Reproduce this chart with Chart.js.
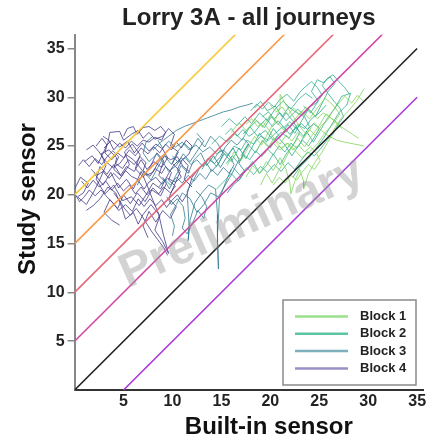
<!DOCTYPE html>
<html>
<head>
<meta charset="utf-8">
<script src="https://cdn.jsdelivr.net/npm/chart.js@4.4.1/dist/chart.umd.min.js"></script>
<style>
  html, body { margin: 0; padding: 0; background: #fff; }
  #wrap { width: 429px; height: 444px; }
</style>
</head>
<body>
<div id="wrap"><canvas id="chart"></canvas></div>
<script>
// reference lines y = x + offset
const refOffsets = [20, 15, 10, 5, 0, -5];
const refColors = ['#F9C93A', '#F79A4B', '#E8687A', '#D046A8', '#222222', '#A83BDB'];

const blockNames = ['Block 1', 'Block 2', 'Block 3', 'Block 4'];
const blockColors = ['rgba(122,209,81,0.75)', 'rgba(34,168,132,0.75)', 'rgba(42,120,142,0.78)', 'rgba(68,58,135,0.8)'];
const legendColors = ['#9BE08C', '#5CC4A2', '#7DAFBD', '#9A8FC6'];

const xTicks = [5, 10, 15, 20, 25, 30, 35];
const yTicks = [5, 10, 15, 20, 25, 30, 35];

// journeys, [built-in, study] pairs
const block4 = [
  [[0.0,20.6],[0.6,21.8],[1.4,21.2],[0.9,20.2],[0.3,19.8],[1.2,19.0],[2.0,20.4],[2.6,21.6],[3.2,23.0],[2.7,24.2],[3.5,24.6],[4.3,23.8],[4.0,22.6],[4.8,21.9],[5.6,23.1],[5.1,24.4],[5.9,25.2],[6.7,24.1],[6.2,22.7],[7.0,21.8],[7.8,23.0],[8.4,24.3],[9.1,23.5],[8.6,22.0],[9.4,21.2],[8.8,19.9],[7.9,20.5],[7.2,19.3],[6.4,20.2],[5.7,19.1],[5.0,20.0],[4.4,18.6],[3.6,19.5],[3.0,18.2],[3.8,17.4],[4.6,16.9]],
  [[1.0,23.4],[1.8,24.0],[2.4,23.2],[3.4,25.3],[3.6,26.4],[4.6,26.5],[5.0,25.6],[5.8,26.2],[6.5,26.6],[7.0,25.8],[7.6,26.4],[8.2,25.7],[9.0,26.0],[9.6,26.8],[10.2,26.2],[9.8,25.0],[10.6,24.4],[10.0,23.2],[10.8,22.4],[10.2,21.0],[9.6,19.6],[10.4,18.8],[9.8,17.6],[9.0,18.4],[8.3,17.2],[7.6,18.3],[7.0,16.8],[7.5,15.6]],
  [[2.0,22.2],[2.9,21.0],[3.7,22.3],[4.5,20.7],[5.3,21.6],[6.0,20.6],[6.8,22.4],[7.4,21.0],[8.1,19.2],[8.7,17.8],[8.2,16.4],[9.0,15.2],[9.6,14.0],[9.1,15.8],[8.6,18.0],[7.8,19.0],[7.0,18.0],[6.5,17.0],[6.0,18.2],[5.2,17.5],[4.8,18.8],[4.2,20.2],[3.4,20.8],[2.6,19.6],[1.9,18.9],[1.2,18.4]],
  [[3.0,24.8],[3.8,25.6],[4.6,24.9],[5.4,25.5],[6.1,24.3],[6.9,25.3],[7.6,24.5],[8.3,25.2],[9.0,24.7],[9.5,23.8],[8.9,22.8],[8.1,23.4],[7.4,22.6],[6.8,23.6],[6.1,22.4],[5.3,22.9],[4.7,22.0],[4.0,23.1],[3.3,22.1],[2.6,22.9],[2.2,21.6],[3.1,20.1],[4.0,21.0],[4.9,19.4],[5.8,19.8],[6.6,18.9],[7.3,20.0],[8.0,21.2],[8.8,20.6],[9.5,22.0],[10.1,23.0],[10.9,23.8],[11.6,23.0],[11.2,21.6],[12.0,20.8]],
  [[0.4,23.0],[0.9,23.6],[1.5,22.9],[2.1,23.7],[2.8,23.1],[3.3,23.9],[3.9,24.5],[4.5,23.9],[4.2,23.2],[4.9,22.7],[5.5,23.6],[6.1,23.1],[6.7,23.9],[7.3,23.3],[7.0,22.5],[7.7,21.9],[8.2,22.7],[8.9,22.2],[9.3,22.9],[9.9,22.3],[9.6,21.5],[10.3,20.9],[9.8,20.2],[9.1,20.8],[8.6,20.1],[8.0,20.7],[7.4,20.0],[6.8,20.8],[6.2,20.1],[5.6,21.0],[5.0,20.4],[4.4,21.2],[3.8,20.5],[3.2,21.4],[2.5,20.8],[1.9,21.5],[1.3,20.7],[0.7,21.4]],
  [[2.2,25.0],[2.8,25.8],[3.3,25.1],[3.1,24.3],[3.8,23.6],[4.4,24.3],[5.0,23.8],[5.6,24.6],[6.2,24.0],[6.8,24.8],[7.5,24.2],[8.1,24.9],[8.7,24.3],[9.3,25.2],[9.9,24.6],[10.4,25.4],[10.9,24.8],[11.4,25.6],[12.0,25.0],[11.7,24.2],[11.0,23.6],[10.5,22.6],[10.9,21.8],[10.3,21.3],[9.5,21.7],[8.9,21.1],[8.3,21.8],[7.6,21.3],[7.1,20.6],[6.4,21.6],[5.8,21.9],[5.2,22.5],[4.6,21.6],[4.0,22.2],[3.5,21.7],[2.9,22.4],[2.3,22.0],[1.7,22.6]],
  [[4.0,20.2],[4.6,19.4],[5.1,18.6],[5.7,17.9],[6.3,18.6],[6.9,17.8],[7.4,17.0],[7.9,16.2],[8.5,15.4],[9.1,14.6],[9.5,13.8]],
  [[5.0,26.0],[5.4,26.8],[6.0,27.0],[6.4,26.2],[7.0,26.9],[7.6,27.0],[8.2,26.6],[8.8,27.0],[9.3,26.4],[8.9,25.6],[8.2,25.9],[7.6,25.4],[7.0,25.6],[6.4,25.0],[5.8,25.5],[5.2,24.8],[4.6,25.3],[4.0,24.6],[3.5,25.6],[2.9,26.0]],
  [[0.1,20.0],[0.5,19.3],[1.0,19.8],[1.5,20.5],[2.1,19.9],[2.7,20.5],[3.3,19.8],[3.9,19.2],[4.5,18.4],[5.2,19.0],[5.9,18.3],[6.5,19.6],[7.1,18.8],[7.7,19.6],[8.3,18.9],[8.9,19.5],[9.4,18.7],[9.9,19.4],[10.5,20.0],[11.0,19.3],[11.5,20.1],[12.0,21.8],[12.6,22.6]],
  [[1.2,24.6],[1.9,25.1],[2.5,24.4],[3.2,23.4],[3.9,22.8],[4.6,23.2],[5.3,24.1],[6.0,23.6],[6.6,22.9],[7.3,22.0],[8.0,22.3],[8.6,23.4],[9.2,24.0],[9.8,23.6],[10.5,23.9],[11.1,22.9],[11.8,22.3]]
];

const block3 = [
  [[6.4,21.0],[7.1,22.4],[7.8,21.5],[8.5,22.8],[9.2,24.0],[9.9,23.1],[10.5,24.4],[11.2,25.3],[11.9,24.6],[12.6,25.8],[13.3,24.9],[13.9,26.0],[14.6,25.3],[15.2,24.2],[14.7,23.2],[14.0,22.4],[13.4,23.4],[12.7,22.6],[12.1,21.4],[11.5,20.4],[11.6,18.6],[11.7,16.8],[11.6,15.3],[11.8,17.4],[12.3,19.2],[13.0,20.2],[13.7,21.0],[14.4,20.6],[14.6,18.0],[14.6,15.2],[14.7,12.4],[14.6,15.8],[14.8,19.6],[15.4,21.2],[16.0,22.6]],
  [[8.0,24.6],[8.8,25.4],[9.6,26.0],[10.4,26.6],[11.2,27.0],[12.0,27.3],[12.8,27.6],[13.6,27.9],[14.4,28.2],[15.2,28.5],[16.0,28.7],[16.8,29.0],[17.6,29.2],[18.2,29.4]],
  [[9.0,21.8],[9.7,20.6],[10.3,21.9],[10.9,23.0],[11.6,22.2],[12.2,23.6],[12.9,24.3],[13.5,23.0],[14.2,24.0],[14.9,22.8],[15.5,23.8],[16.2,24.8],[16.8,23.6],[16.1,22.2],[15.4,21.0],[14.7,19.8],[13.9,20.2],[13.2,19.0],[12.5,18.2],[11.8,19.6],[11.0,20.2],[10.4,19.0],[9.8,18.0],[10.2,16.8],[10.0,15.8]],
  [[12.5,26.3],[13.2,25.5],[12.6,24.6],[11.8,23.4],[11.1,24.2],[10.4,23.0],[9.6,22.4],[9.0,23.4],[8.4,24.2],[7.6,23.4],[7.0,24.3],[7.3,25.4],[8.0,26.0]],
  [[8.6,20.8],[9.2,21.6],[9.8,21.0],[10.4,21.8],[11.0,21.2],[11.6,22.0],[12.2,21.4],[12.8,22.2],[13.4,21.6],[14.0,22.6],[14.6,22.0],[15.2,22.8],[15.8,22.2],[16.3,23.1],[15.9,23.9],[15.2,24.6],[14.5,24.2],[13.8,24.9],[13.1,24.4],[12.4,25.1],[11.7,24.6],[11.0,25.4],[10.3,24.9],[9.6,25.5],[9.0,24.8],[8.5,25.6]],
  [[10.0,24.0],[10.6,23.3],[11.3,23.8],[11.9,23.1],[12.5,23.6],[13.1,22.9],[13.6,23.7],[14.3,23.2],[14.9,23.9],[15.4,24.9],[16.0,25.6],[16.6,25.1],[17.2,25.8],[17.8,25.2],[17.3,24.4],[16.8,23.2],[17.4,22.4],[16.9,21.6],[16.2,21.0],[15.6,20.2]],
  [[9.4,19.8],[9.9,19.0],[10.5,19.6],[11.1,18.8],[11.3,17.6],[11.0,16.6],[11.5,16.0],[12.1,17.2],[12.6,18.4],[13.2,17.6],[13.5,18.8],[13.0,19.8],[12.4,20.4]]
];

const block2 = [
  [[13.0,22.6],[13.8,23.8],[14.5,22.9],[15.3,24.2],[16.0,23.4],[16.8,24.8],[17.5,23.7],[18.2,25.0],[18.9,26.3],[19.6,25.4],[20.3,26.8],[21.0,25.9],[21.8,27.2],[22.5,26.3],[23.2,27.6],[23.9,28.8],[24.6,28.0],[25.3,29.4],[25.9,30.6],[26.6,31.4],[26.1,32.1],[25.4,31.5],[24.8,31.8],[24.2,30.6],[24.9,29.6],[24.1,28.4],[23.4,29.1]],
  [[14.0,25.2],[14.8,26.0],[15.6,25.4],[16.4,26.3],[17.1,25.6],[17.8,26.8],[18.6,27.6],[19.4,26.9],[20.1,28.0],[20.8,27.2],[21.6,28.4],[22.3,27.6],[23.0,26.4],[22.4,25.2],[21.7,24.3],[21.0,23.1],[20.3,24.2],[19.6,23.0],[18.9,22.2],[18.2,23.4],[17.4,22.4],[16.7,21.4],[16.0,22.2],[15.2,21.3],[14.5,20.6]],
  [[17.0,24.0],[17.7,25.2],[18.5,24.3],[19.2,25.6],[20.0,24.8],[20.7,26.0],[21.5,25.1],[22.2,24.0],[23.0,25.2],[23.7,26.5],[24.4,25.4],[25.1,26.6],[25.8,27.8],[26.6,28.9],[27.3,30.1],[28.2,30.4],[27.8,29.2],[27.0,28.4],[26.2,27.1],[25.5,25.9],[24.7,24.8],[23.9,23.7],[23.0,22.8],[22.3,21.8]],
  [[15.0,27.0],[15.8,27.8],[16.6,27.1],[17.4,28.0],[18.1,27.3],[18.9,28.4],[19.7,27.6],[20.5,28.8],[21.3,29.6],[22.1,28.8],[22.9,29.8],[23.6,30.4],[24.3,29.9]],
  [[15.5,23.2],[16.1,24.0],[16.7,23.3],[17.3,24.1],[17.9,23.6],[18.5,24.5],[19.1,23.9],[19.7,24.7],[20.3,24.1],[20.9,25.0],[21.5,24.4],[22.1,25.3],[22.7,24.8],[23.3,25.6],[23.9,25.0],[24.5,25.9],[25.0,26.8],[24.4,27.3],[23.8,26.7],[23.2,27.3],[22.6,26.8],[22.0,27.5],[21.4,26.9],[20.8,27.6],[20.2,27.0],[19.6,27.8],[19.0,27.2],[18.4,26.4],[17.8,26.0],[17.2,26.7],[16.6,26.0],[16.0,26.8],[15.4,26.2]],
  [[18.0,28.6],[18.6,29.3],[19.2,28.8],[19.8,29.5],[20.4,29.0],[21.0,29.8],[21.7,30.3],[22.4,29.6],[23.0,30.5],[23.6,31.1],[24.2,31.6],[24.8,31.0],[25.3,30.2],[24.7,29.4],[24.0,29.0],[23.4,28.2],[22.8,28.8],[22.2,28.2],[21.6,27.6],[21.0,28.4],[20.4,27.8],[19.8,28.5],[19.2,28.0]],
  [[16.2,22.8],[16.9,22.0],[17.6,22.8],[18.3,22.1],[19.0,22.9],[19.7,22.3],[20.4,23.1],[21.1,22.4],[21.8,23.3],[22.5,22.6],[23.2,23.6],[23.8,24.4],[24.5,24.0],[25.2,24.8],[25.8,25.6],[26.4,26.2],[26.9,27.2],[27.5,28.0],[27.1,28.9],[26.5,29.6],[25.9,30.4],[25.3,31.2],[25.8,31.9],[26.4,32.3],[27.0,31.6],[27.6,31.0],[28.1,30.3]],
  [[17.2,26.2],[17.9,27.0],[18.7,26.0],[19.5,26.6],[20.3,25.6],[21.1,26.4],[21.9,25.8],[22.6,26.9],[23.4,26.0],[24.0,27.0],[23.5,28.0],[22.7,28.4],[21.9,29.0],[21.2,28.0],[20.5,29.1],[19.7,28.6],[19.0,29.6],[18.4,28.9]],
  [[14.2,23.6],[14.9,24.6],[15.6,24.0],[16.3,25.0],[17.0,24.6],[17.6,25.6],[18.3,25.2],[19.0,26.0],[19.8,25.6],[20.6,26.4],[21.3,27.0],[22.0,26.2],[22.8,27.2],[23.5,26.8],[24.2,27.8],[25.0,28.4],[25.7,29.2]]
];

const block1 = [
  [[15.6,23.0],[16.3,24.4],[17.0,23.5],[17.7,24.8],[18.4,26.0],[19.1,25.1],[19.8,26.4],[20.5,27.6],[21.0,29.0],[21.0,30.3],[21.6,29.2],[22.3,28.1],[23.0,27.0],[23.7,26.2],[24.5,27.4],[25.2,26.6],[26.0,26.0],[26.8,25.6],[27.6,25.4],[28.6,25.2],[29.6,25.0]],
  [[17.5,21.8],[18.2,23.0],[18.9,22.2],[19.6,23.4],[20.3,22.5],[21.0,23.8],[21.6,22.6],[22.0,21.2],[22.1,20.1],[22.5,21.4],[23.0,22.6],[23.4,21.4],[23.4,20.6],[23.9,22.2],[24.6,23.4],[25.3,24.4],[26.0,25.6],[26.6,26.9],[27.2,27.8],[28.0,28.6],[28.8,29.6],[29.6,30.9]],
  [[16.0,26.4],[16.8,27.4],[17.6,26.5],[18.4,27.8],[19.2,26.9],[20.0,28.2],[20.8,27.3],[21.6,26.4],[22.4,27.6],[23.2,28.6],[24.0,27.8],[24.8,28.9],[25.6,29.9],[26.4,29.2],[27.1,28.3],[26.4,27.2],[25.6,26.4],[24.8,25.2],[24.0,24.4],[23.2,23.8],[22.5,24.6],[21.8,25.3],[21.0,24.6],[20.2,25.4],[19.4,24.2]],
  [[19.0,21.0],[19.6,22.2],[20.2,21.2],[20.8,22.4],[21.5,23.6],[22.1,24.8],[22.8,25.8],[23.5,24.9],[24.2,26.0],[25.0,27.1],[25.7,28.3],[26.5,27.6],[27.3,26.8]],
  [[18.6,24.6],[19.2,25.5],[19.8,24.9],[20.4,25.8],[21.0,25.2],[21.6,26.1],[22.2,25.5],[22.8,26.4],[23.4,25.8],[24.0,26.7],[24.6,26.1],[25.2,27.1],[25.8,27.6],[26.4,28.6],[27.0,29.4],[27.6,30.1],[28.3,29.4],[28.9,30.2],[29.5,29.6]],
  [[20.0,29.2],[20.6,28.5],[21.2,29.0],[21.8,28.2],[22.4,28.9],[23.0,28.2],[23.6,29.0],[24.2,28.5],[24.8,27.8],[25.4,28.4],[26.0,28.0],[26.6,27.6],[27.2,27.0],[27.8,26.6],[28.4,26.2],[29.0,25.8]],
  [[20.3,21.0],[20.9,21.8],[21.5,21.2],[22.1,22.0],[22.7,21.5],[23.3,22.4],[23.9,23.1],[24.5,22.6],[25.1,23.5],[24.7,24.3],[24.1,24.9],[23.5,24.4],[22.9,25.1],[22.3,24.6],[21.7,25.3],[21.1,24.8],[20.5,25.5],[19.9,26.6],[19.3,27.4],[18.7,27.0],[18.1,27.8],[17.5,27.2]]
];

const blocks = [block1, block2, block3, block4];
const X_MAX = 35.6, Y_MAX = 36.4, LINE_END = 35;
const FONT = "'Liberation Sans', Arial, sans-serif";

const datasets = [];
refOffsets.forEach((off, i) => {
  const x0 = Math.max(0, -off);
  datasets.push({
    label: 'ref', data: [{x: x0, y: x0 + off}, {x: LINE_END, y: LINE_END + off}],
    borderColor: refColors[i], borderWidth: 1.6, showLine: true, pointRadius: 0, order: 0
  });
});
blocks.forEach((journeys, b) => {
  journeys.forEach(j => {
    datasets.push({
      label: blockNames[b], data: j.map(p => ({x: p[0], y: p[1]})),
      borderColor: blockColors[b], borderWidth: 1, showLine: true, pointRadius: 0,
      tension: 0, order: 1 + b
    });
  });
});

const overlay = {
  id: 'overlay',
  afterDatasetsDraw(chart) {
    const {ctx, chartArea: a} = chart;
    // watermark
    ctx.save();
    ctx.translate(a.left + 0.48 * (a.right - a.left), a.top + 0.53 * (a.bottom - a.top));
    ctx.rotate(-24 * Math.PI / 180);
    ctx.font = 'bold 48px ' + FONT;
    ctx.fillStyle = 'rgba(150,150,150,0.42)';
    ctx.textAlign = 'center';
    ctx.textBaseline = 'middle';
    ctx.fillText('Preliminary', 0, 0);
    ctx.restore();
    // legend box
    const bx = a.right - 140, by = a.bottom - 90, bw = 133, bh = 85;
    ctx.save();
    ctx.fillStyle = '#fff';
    ctx.fillRect(bx, by, bw, bh);
    ctx.strokeStyle = '#8a8a8a';
    ctx.lineWidth = 1.5;
    ctx.strokeRect(bx, by, bw, bh);
    ctx.font = 'bold 13px ' + FONT;
    ctx.textBaseline = 'middle';
    ctx.textAlign = 'left';
    blockNames.forEach((name, i) => {
      const yy = by + 16.5 + i * 17.3;
      ctx.strokeStyle = legendColors[i];
      ctx.lineWidth = 2.5;
      ctx.beginPath();
      ctx.moveTo(bx + 12, yy);
      ctx.lineTo(bx + 65, yy);
      ctx.stroke();
      ctx.fillStyle = '#222';
      ctx.fillText(name, bx + 77, yy);
    });
    ctx.restore();
  }
};

new Chart(document.getElementById('chart'), {
  type: 'scatter',
  data: { datasets },
  plugins: [overlay],
  options: {
    responsive: true,
    maintainAspectRatio: false,
    animation: false,
    layout: { padding: { left: 14, right: 6, top: 0, bottom: 1 } },
    plugins: {
      legend: { display: false },
      tooltip: { enabled: false },
      title: {
        display: true,
        text: 'Lorry 3A - all journeys',
        fullSize: false,
        color: '#222',
        font: { family: FONT, size: 24, weight: 'bold', lineHeight: 1.2 },
        padding: { top: 4, bottom: 2 }
      }
    },
    scales: {
      x: {
        type: 'linear', min: 0, max: X_MAX,
        afterBuildTicks: s => { s.ticks = xTicks.map(v => ({value: v})); },
        ticks: { color: '#222', padding: 2, maxRotation: 0, font: { family: FONT, size: 16, weight: 'bold' } },
        grid: { display: false, drawTicks: false },
        border: { display: true, color: '#333', width: 2 },
        title: {
          display: true, text: '      Built-in sensor', color: '#111',
          font: { family: FONT, size: 24, weight: 'bold', lineHeight: 1.2 },
          padding: { top: 0, bottom: 1 }
        }
      },
      y: {
        type: 'linear', min: 0, max: Y_MAX,
        afterBuildTicks: s => { s.ticks = yTicks.map(v => ({value: v})); },
        ticks: { color: '#222', padding: 3, font: { family: FONT, size: 16, weight: 'bold' } },
        grid: { display: true, drawOnChartArea: false, drawTicks: true, tickLength: 7, color: '#888', lineWidth: 1.5 },
        border: { display: true, color: '#888', width: 2 },
        title: {
          display: true, text: '    Study sensor', color: '#111',
          font: { family: FONT, size: 24, weight: 'bold', lineHeight: 1.2 },
          padding: { top: 0, bottom: 1 }
        }
      }
    }
  }
});
</script>
</body>
</html>
